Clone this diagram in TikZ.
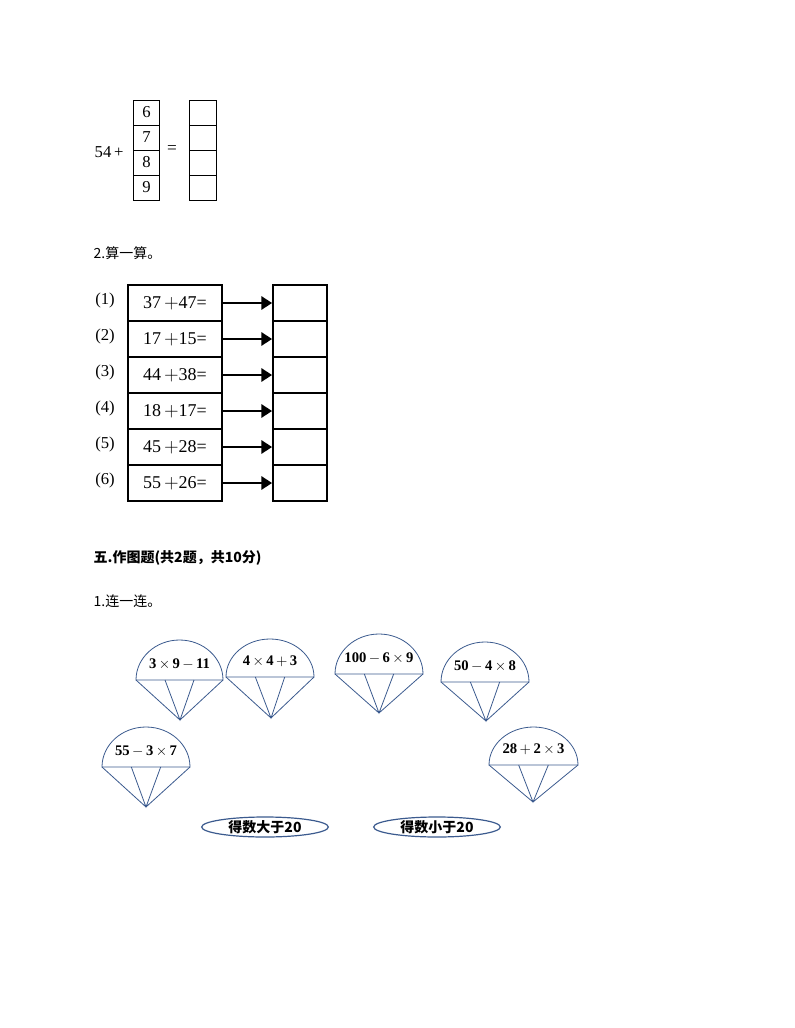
\documentclass[tikz,border=0pt]{standalone}
\usepackage{fontspec}
\usetikzlibrary{arrows.meta,shapes.geometric}
\setmainfont{Liberation Serif}
\newfontfamily\cjk{Noto Sans CJK SC}
\definecolor{chb}{HTML}{3B5A8E}
\begin{document}
\begin{tikzpicture}[x=0.75pt,y=-0.75pt,
  cell/.style={draw,line width=0.7pt,minimum width=20pt,minimum height=18.75pt,inner sep=0pt,font=\fontsize{12.5}{13}\selectfont},
  eqbox/.style={draw,line width=1.2pt,minimum width=70.5pt,minimum height=27pt,inner sep=0pt,font=\fontsize{13.5}{14}\selectfont},
  ansbox/.style={draw,line width=1.4pt,minimum width=40.5pt,minimum height=27pt,inner sep=0pt},
  arr/.style={-{Triangle[length=8pt,width=10pt]},line width=1.3pt},
  chute/.style={draw=chb,line width=0.6pt},
  chtext/.style={font=\bfseries\fontsize{11}{12}\selectfont,text=black},
  lbl/.style={font=\fontsize{12.5}{13}\selectfont,anchor=west},
  oval/.style={draw=chb,line width=0.9pt,ellipse,minimum width=95pt,minimum height=15pt,inner sep=0pt,font=\cjk\bfseries\fontsize{10.5}{11}\selectfont}]
\useasboundingbox (0,0) rectangle (794,1028);
% top
\foreach \v [count=\i] in {6,7,8,9}{
  \node[cell] (l\i) at (146.5,{100+25*(\i-0.5)}) {\v};
  \node[cell] (r\i) at (203,{100+25*(\i-0.5)}) {};
}
\node[lbl] (p54) at (90,152) {54\,+};
\node[font=\fontsize{13}{14}\selectfont] (eq) at (172,150) {=};
\node[lbl,font=\cjk\fontsize{10.5}{12}\selectfont] (t2) at (89,253) {2.算一算。};
% table
\foreach \e/\lab [count=\i] in {37/47,17/15,44/38,18/17,45/28,55/26}{
  \node[eqbox] (e\i) at (175,{285+36*(\i-0.5)}) {\e\,$+$\lab=};
  \node[ansbox] (a\i) at (300,{285+36*(\i-0.5)}) {};
  \node[font=\fontsize{12.5}{13}\selectfont] (n\i) at (105,{285+36*(\i-0.5)-3}) {(\i)};
  \draw[arr] (e\i.east) -- (a\i.west);
}
\node[lbl,font=\cjk\bfseries\fontsize{10.5}{12}\selectfont] (t5) at (89,558) {五.作图题(共2题，共10分)};
\node[lbl,font=\cjk\fontsize{10.5}{12}\selectfont] (t1) at (89,601) {1.连一连。};
% parachutes
\foreach \xl/\xr/\yl/\yt/\xa/\ya/\txt [count=\k] in {
  136/223/680/640/180/720/{3$\,\times\,$9$\,-\,$11},
  226/314/677/639/271/718/{4$\,\times\,$4$\,+\,$3},
  335/423/674/634/379/713/{100$\,-\,$6$\,\times\,$9},
  441/529/682/642/486/721/{50$\,-\,$4$\,\times\,$8},
  102/190/767/727/146/807/{55$\,-\,$3$\,\times\,$7},
  489/578/765/727/533/802/{28$\,+\,$2$\,\times\,$3}}{
  \pgfmathsetmacro\xm{(\xl+\xr)/2}
  \pgfmathsetmacro\rx{(\xr-\xl)/2}
  \pgfmathsetmacro\ry{\yl-\yt}
  \pgfmathsetmacro\xi{\xl+(\xr-\xl)/3}
  \pgfmathsetmacro\xj{\xl+2*(\xr-\xl)/3}
  \coordinate (cl\k) at (\xl,\yl);
  \coordinate (cr\k) at (\xr,\yl);
  \coordinate (ci\k) at (\xi,\yl);
  \coordinate (cj\k) at (\xj,\yl);
  \coordinate (ap\k) at (\xa,\ya);
  \draw[chute] (cl\k) arc[start angle=180,end angle=0,x radius=\rx*0.75pt,y radius=\ry*0.75pt] -- cycle;
  \draw[chute] (cl\k) -- (ap\k) -- (cr\k) (ci\k) -- (ap\k) -- (cj\k);
  \node[chtext] (ct\k) at (\xm,\yl-16) {\txt};
}
\node[oval] (o1) at (265,827) {得数大于20};
\node[oval] (o2) at (437,827) {得数小于20};
\end{tikzpicture}
\end{document}
